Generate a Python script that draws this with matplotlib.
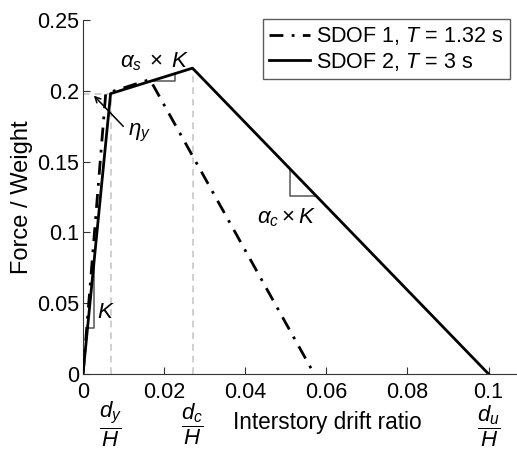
import matplotlib
matplotlib.use("Agg")
import matplotlib.pyplot as plt
import numpy as np

plt.rcParams['font.family'] = ['Liberation Sans', 'DejaVu Sans']
plt.rcParams['mathtext.fontset'] = 'custom'
plt.rcParams['mathtext.rm'] = 'Liberation Sans'
plt.rcParams['mathtext.it'] = 'Liberation Sans:italic'
plt.rcParams['mathtext.bf'] = 'Liberation Sans:bold'

# Data
sdof1_x = [0.0, 0.0056, 0.0165, 0.057]
sdof1_y = [0.0, 0.198, 0.208, 0.0]
sdof2_x = [0.0, 0.0068, 0.027, 0.100]
sdof2_y = [0.0, 0.198, 0.216, 0.0]
legend_labels = [r'SDOF 1, $T$ = 1.32 s', r'SDOF 2, $T$ = 3 s']
xticks = [0, 0.02, 0.04, 0.06, 0.08, 0.1]
xticklabels = ['0', '0.02', '0.04', '0.06', '0.08', '0.1']
yticks = [0, 0.05, 0.1, 0.15, 0.2, 0.25]
yticklabels = ['0', '0.05', '0.1', '0.15', '0.2', '0.25']
dy, fy = 0.0068, 0.198
dc, fc = 0.027, 0.216
du = 0.100

fig = plt.figure(figsize=(5.17, 4.51), dpi=100)
ax = fig.add_axes([83/517, 1-374/451, 1-83/517, (374-20)/451])
ax.set_xlim(0, 0.107)
ax.set_ylim(0, 0.25)

gray = '#c8c8c8'
ax.plot([dy, dy], [0, fy], color=gray, ls=(0, (4, 3)), lw=1.2, zorder=1)
ax.plot([dc, dc], [0, fc], color=gray, ls=(0, (4, 3)), lw=1.2, zorder=1)
ax.plot([0, dy], [fy, fy], color=gray, ls=(0, (4, 3)), lw=1.2, zorder=1)

l1, = ax.plot(sdof1_x, sdof1_y, color='black', lw=2, ls=(0, (5, 3, 1, 3)), zorder=3)
l2, = ax.plot(sdof2_x, sdof2_y, color='black', lw=2, ls='-', zorder=3)

tri = '#555555'
# K triangle
k = fy / dy
yk = 0.0325
xk1 = yk / k
xk2 = 0.0027
ax.plot([xk1, xk2, xk2], [yk, yk, k*xk2], color=tri, lw=1.1, zorder=2)
ax.text(0.0034, 0.0435, r'$K$', fontsize=16, ha='left', va='center')
# alpha_s triangle
ks = (fc - fy) / (dc - dy)
ys = 0.2071
xs1 = dy + (ys - fy) / ks
xs2 = 0.0227
ax.plot([xs1, xs2, xs2], [ys, ys, fy + ks*(xs2 - dy)], color=tri, lw=1.1, zorder=2)
ax.text(0.0178, 0.2125, r'$\alpha_s\;\times\;K$', fontsize=16, ha='center', va='bottom')
# alpha_c triangle
kc = fc / (du - dc)
xc = 0.0511
yc2 = 0.1257
ax.plot([xc, xc, dc + (fc - yc2)/kc], [fc - kc*(xc - dc), yc2, yc2], color=tri, lw=1.1, zorder=2)
ax.text(0.0501, 0.1185, r'$\alpha_c\times K$', fontsize=16, ha='center', va='top')
# eta_y arrow
ax.annotate('', xy=(0.0022, 0.198), xytext=(0.0104, 0.1735),
            arrowprops=dict(arrowstyle='->', color='black', lw=1.1))
ax.text(0.0111, 0.170, r'$\eta_y$', fontsize=16, ha='left', va='center')

ax.spines['top'].set_visible(False)
ax.spines['right'].set_visible(False)
ax.spines['left'].set_color('#333333')
ax.spines['bottom'].set_color('#333333')
ax.set_xticks(xticks)
ax.set_xticklabels(xticklabels)
ax.set_yticks(yticks)
ax.set_yticklabels(yticklabels)
ax.tick_params(direction='in', length=5, width=0.8, labelsize=15.5, colors='#333333', labelcolor='black')
ax.tick_params(axis='x', pad=6)
ax.tick_params(axis='y', pad=3)

ax.set_ylabel('Force / Weight', fontsize=17, labelpad=3)
ax.text(0.0602, -0.0342, 'Interstory drift ratio', fontsize=16.3, ha='center', va='center',
        clip_on=False)

for xv, sub, yv in [(dy, 'y', -0.0355), (dc, 'c', -0.0355), (du, 'u', -0.0372)]:
    ax.text(xv, yv, r'$\dfrac{d_%s}{H}$' % sub, fontsize=16, ha='center', va='center',
            clip_on=False)

leg = fig.legend([l1, l2], legend_labels, loc='upper right',
                 bbox_to_anchor=(510/517, 1-19/451), fontsize=15.5,
                 frameon=True, fancybox=False, handlelength=1.9, handletextpad=0.3,
                 borderpad=0.3, labelspacing=0.15, borderaxespad=0)
leg.get_frame().set_edgecolor('#333333')
leg.get_frame().set_linewidth(1.0)

fig.savefig('out.png', dpi=100)
